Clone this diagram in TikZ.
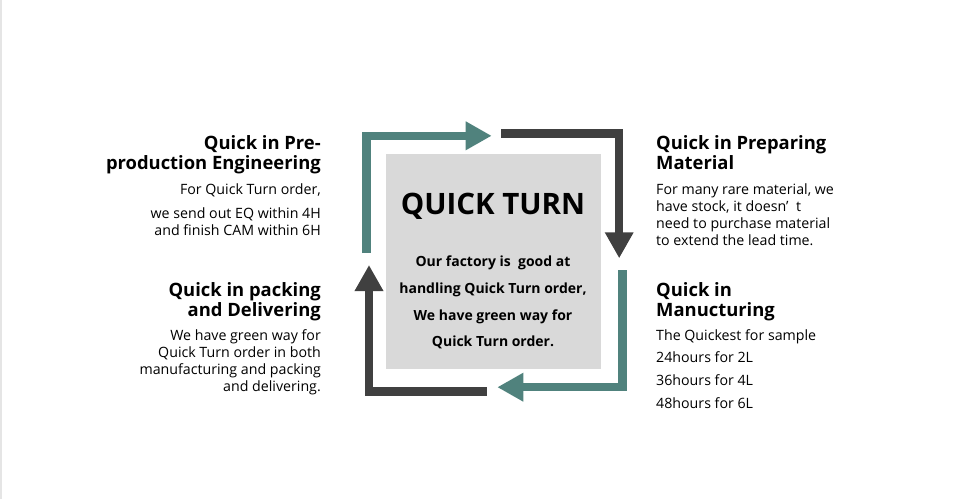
\documentclass[tikz,border=0pt]{standalone}
\usepackage{fontspec}
\setmainfont{Open Sans}
\usetikzlibrary{arrows.meta,positioning}
\definecolor{tealarrow}{RGB}{80,130,125}
\definecolor{darkarrow}{RGB}{64,64,64}
\definecolor{boxgray}{RGB}{217,217,217}
\tikzset{
  flowteal/.style={draw=tealarrow,line width=8.5pt,-{Triangle[length=26pt,width=27pt]}},
  flowdark/.style={draw=darkarrow,line width=8.5pt,-{Triangle[length=26pt,width=27pt]}},
  headtext/.style={inner sep=0pt,font=\bfseries\fontsize{18.4}{20}\selectfont},
  bodytext/.style={inner sep=0pt,font=\fontsize{14.2}{17}\selectfont}
}
\begin{document}
\begin{tikzpicture}[x=1pt,y=-1pt]
\useasboundingbox (0,0) rectangle (962,499);
\fill[gray!20] (0,0) rectangle (2,499);

% centre box
\node[fill=boxgray,minimum width=215pt,minimum height=215pt,anchor=north west,inner sep=0pt] (core) at (386,154) {};
\node[inner sep=0pt,font=\bfseries\fontsize{29.5}{32}\selectfont] (quickturn) at (493,206) {QUICK TURN};
\node[inner sep=0pt,align=center,font=\bfseries\fontsize{14}{26.7}\selectfont] (pitch) at (493,302.5)
  {Our factory is\ \ good at\\handling Quick Turn order,\\We have green way for\\Quick Turn order.};

% arrows round the box
\coordinate (tl0) at (366.5,253);
\coordinate (tl1) at (366.5,135.8);
\coordinate (tl2) at (491.7,135.8);
\coordinate (tr0) at (501,133.3);
\coordinate (tr1) at (619.2,133.3);
\coordinate (tr2) at (619.2,258.3);
\coordinate (br0) at (622.5,270);
\coordinate (br1) at (622.5,387.2);
\coordinate (br2) at (497.3,387.2);
\coordinate (bl0) at (486.7,391.3);
\coordinate (bl1) at (369,391.3);
\coordinate (bl2) at (369,265);
\draw[flowteal] (tl0) -- (tl1) -- (tl2);
\draw[flowdark] (tr0) -- (tr1) -- (tr2);
\draw[flowteal] (br0) -- (br1) -- (br2);
\draw[flowdark] (bl0) -- (bl1) -- (bl2);

% left side
\node[headtext,anchor=north east,align=right] (engtitle) at (321,135) {Quick in Pre-\\production Engineering};
\node[bodytext,anchor=north east,align=right] (engtext) at (321,183.5) {For Quick Turn order,\\[7pt]we send out EQ within 4H\\and finish CAM within 6H};
\node[headtext,anchor=north east,align=right] (deliverytitle) at (321,282) {Quick in packing\\and Delivering};
\node[bodytext,anchor=north east,align=right] (deliverytext) at (321,329) {We have green way for\\Quick Turn order in both\\manufacturing and packing\\and delivering.};

% right side
\node[headtext,anchor=north west,align=left] (materialtitle) at (656,135) {Quick in Preparing\\Material};
\node[bodytext,anchor=north west,align=left] (materialtext) at (656,183.5) {For many rare material, we\\have stock, it doesn’\ \ t\\need to purchase material\\to extend the lead time.};
\node[headtext,anchor=north west,align=left] (makingtitle) at (656,282) {Quick in\\Manucturing};
\node[bodytext,anchor=north west,align=left] (makingtext) at (656,329) {The Quickest for sample\\[5.7pt]24hours for 2L\\[5.7pt]36hours for 4L\\[5.7pt]48hours for 6L};
\end{tikzpicture}
\end{document}
